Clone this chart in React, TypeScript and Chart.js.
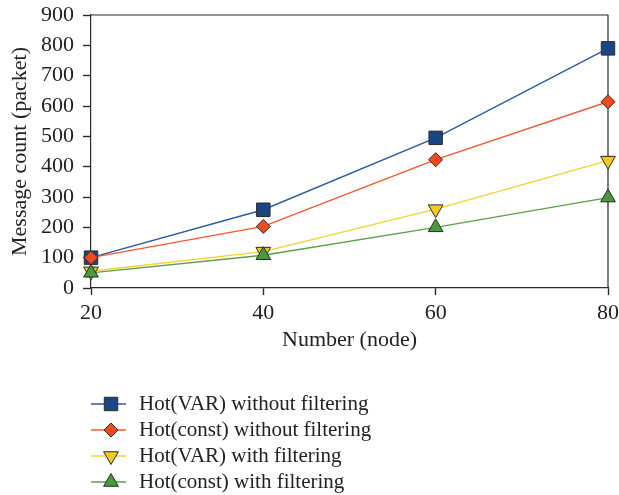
import React, { useEffect, useRef } from "react";
import { Chart, registerables } from "chart.js";

Chart.register(...registerables);

const nodes = [20, 40, 60, 80];
const hotVarNoFilter = [100, 258, 495, 790];
const hotConstNoFilter = [100, 203, 423, 614];
const hotVarFilter = [55, 120, 260, 420];
const hotConstFilter = [50, 108, 200, 298];
const seriesNames = [
  "Hot(VAR) without filtering",
  "Hot(const) without filtering",
  "Hot(VAR) with filtering",
  "Hot(const) with filtering",
];
const yTitle = "Message count (packet)";
const xTitle = "Number (node)";

const FONT = "'Liberation Serif', 'Times New Roman', serif";
const AXIS = "#2a2a2a";
const TEXT = "#222";

const toXY = (ys: number[]) => ys.map((y, i) => ({ x: nodes[i], y }));

const framePlugin = {
  id: "frame",
  beforeDatasetsDraw(chart: any) {
    const { ctx, chartArea } = chart;
    ctx.save();
    ctx.strokeStyle = AXIS;
    ctx.lineWidth = 1.2;
    ctx.beginPath();
    ctx.moveTo(chartArea.left, chartArea.top);
    ctx.lineTo(chartArea.right, chartArea.top);
    ctx.lineTo(chartArea.right, chartArea.bottom);
    ctx.stroke();
    ctx.restore();
  },
};

function drawMarker(ctx: CanvasRenderingContext2D, style: string, r: number, rot: number, x: number, y: number) {
  ctx.beginPath();
  if (style === "rect") {
    const s = Math.SQRT1_2 * r;
    ctx.rect(x - s, y - s, 2 * s, 2 * s);
  } else if (style === "rectRot") {
    ctx.moveTo(x, y - r);
    ctx.lineTo(x + r, y);
    ctx.lineTo(x, y + r);
    ctx.lineTo(x - r, y);
    ctx.closePath();
  } else {
    let rad = (rot * Math.PI) / 180;
    ctx.moveTo(x + Math.sin(rad) * r, y - Math.cos(rad) * r);
    rad += (2 * Math.PI) / 3;
    ctx.lineTo(x + Math.sin(rad) * r, y - Math.cos(rad) * r);
    rad += (2 * Math.PI) / 3;
    ctx.lineTo(x + Math.sin(rad) * r, y - Math.cos(rad) * r);
    ctx.closePath();
  }
  ctx.fill();
  ctx.stroke();
}

const legendPlugin = {
  id: "customLegend",
  afterDraw(chart: any) {
    const { ctx } = chart;
    const rowY = [404, 430, 456, 482];
    ctx.save();
    chart.data.datasets.forEach((ds: any, i: number) => {
      const y = rowY[i];
      ctx.strokeStyle = ds.borderColor;
      ctx.lineWidth = 1.5;
      ctx.beginPath();
      ctx.moveTo(91, y);
      ctx.lineTo(126, y);
      ctx.stroke();
      ctx.fillStyle = ds.pointBackgroundColor;
      ctx.strokeStyle = ds.pointBorderColor;
      ctx.lineWidth = 1;
      drawMarker(ctx, ds.pointStyle, ds.pointRadius, ds.pointRotation || 0, 111, y);
      ctx.fillStyle = TEXT;
      ctx.font = `21px ${FONT}`;
      ctx.textAlign = "left";
      ctx.textBaseline = "middle";
      ctx.fillText(ds.label, 139, y);
    });
    ctx.restore();
  },
};

export default function App() {
  const ref = useRef<HTMLCanvasElement>(null);
  useEffect(() => {
    if (!ref.current) return;
    const mk = (label: string, data: number[], line: string, fill: string, style: string, radius: number, order: number, rotation = 0) => ({
      label,
      data: toXY(data),
      borderColor: line,
      borderWidth: 1.4,
      backgroundColor: fill,
      pointBackgroundColor: fill,
      pointBorderColor: "#2a2a2a",
      pointBorderWidth: 1,
      pointStyle: style,
      pointRadius: radius,
      pointHoverRadius: radius,
      pointRotation: rotation,
      order,
      clip: false as any,
    });
    const chart = new Chart(ref.current, {
      type: "line",
      data: {
        datasets: [
          mk(seriesNames[0], hotVarNoFilter, "#2c5a9e", "#1b4684", "rect", 9.5, 4),
          mk(seriesNames[1], hotConstNoFilter, "#f2592e", "#f04a1f", "rectRot", 7, 3),
          mk(seriesNames[2], hotVarFilter, "#f5d22e", "#f6c820", "triangle", 8.5, 2, 180),
          mk(seriesNames[3], hotConstFilter, "#5c9f48", "#4a993a", "triangle", 8.5, 1),
        ] as any,
      },
      options: {
        animation: false,
        responsive: false,
        maintainAspectRatio: false,
        layout: { padding: { left: 0, top: 15, right: 11, bottom: 137 } },
        plugins: { legend: { display: false }, tooltip: { enabled: false } },
        scales: {
          x: {
            type: "linear",
            min: 20,
            max: 80,
            ticks: { stepSize: 20, color: TEXT, font: { family: FONT, size: 22 }, padding: 5 },
            grid: { drawOnChartArea: false, color: AXIS, tickLength: 7, tickWidth: 1.4 },
            border: { color: AXIS, width: 1.2 },
            title: { display: true, text: xTitle, color: TEXT, font: { family: FONT, size: 22 }, padding: { top: 2, bottom: 5 } },
            afterFit: (s: any) => {
              s.height = 70;
              s.paddingLeft = 0;
              s.paddingRight = 0;
            },
          },
          y: {
            min: 0,
            max: 900,
            ticks: { stepSize: 100, color: TEXT, font: { family: FONT, size: 22 }, padding: 9 },
            grid: { drawOnChartArea: false, color: AXIS, tickLength: 8, tickWidth: 1.4 },
            border: { color: AXIS, width: 1.2 },
            title: { display: true, text: yTitle, color: TEXT, font: { family: FONT, size: 22 }, padding: { top: 7, bottom: 4 } },
            afterFit: (s: any) => {
              s.width = 91;
              s.paddingTop = 0;
              s.paddingBottom = 0;
            },
          },
        },
      } as any,
      plugins: [framePlugin, legendPlugin],
    });
    return () => chart.destroy();
  }, []);
  return (
    <div style={{ position: "fixed", left: 0, top: 0, width: 619, height: 495, background: "#fff" }}>
      <canvas ref={ref} width={619} height={495} style={{ display: "block", width: 619, height: 495 }} />
    </div>
  );
}
